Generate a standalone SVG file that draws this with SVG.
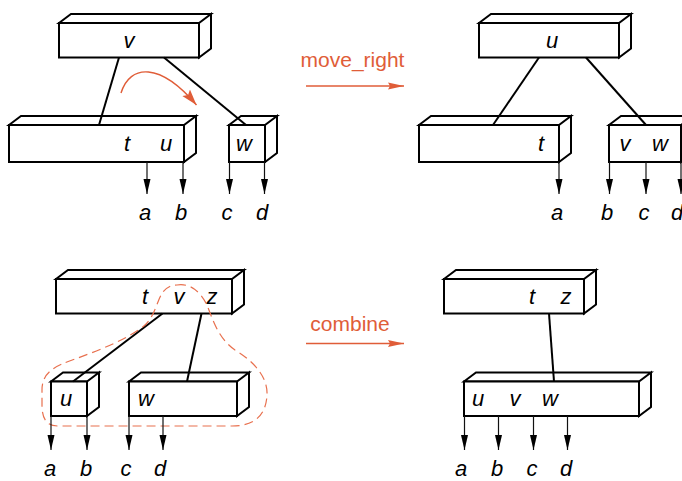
<svg xmlns="http://www.w3.org/2000/svg" width="682" height="481" viewBox="0 0 682 481">
<style>
.box{fill:#fff;stroke:#000;stroke-width:2;stroke-linejoin:miter}
.lbl{font-family:"Liberation Sans",Arial,sans-serif;font-style:italic;font-size:22px;fill:#000;text-anchor:middle}
.op{font-family:"Liberation Sans",Arial,sans-serif;font-size:21px;fill:#E05D38;text-anchor:middle}
.edge{stroke:#000;stroke-width:2;fill:none}
.ptr{stroke:#111;stroke-width:1.2;fill:none;marker-end:url(#ah)}
.oarr{stroke:#E05D38;stroke-width:1.3;fill:none;marker-end:url(#oh)}
.carr{stroke:#E05D38;stroke-width:1.4;fill:none;marker-end:url(#oh2)}
.dash{stroke:#E8704E;stroke-width:1.2;fill:none;stroke-dasharray:9 5}
</style>
<defs>
<marker id="ah" markerUnits="userSpaceOnUse" markerWidth="15" markerHeight="8" refX="15" refY="4" orient="auto"><path d="M0,0.5 L15,4 L0,7.5 Z" fill="#000"/></marker>
<marker id="oh" markerUnits="userSpaceOnUse" markerWidth="17" markerHeight="8" refX="16" refY="4" orient="auto"><path d="M0,0.5 L16,4 L0,7.5 L2,4 Z" fill="#E05D38"/></marker>
<marker id="oh2" markerUnits="userSpaceOnUse" markerWidth="17" markerHeight="11" refX="16" refY="5.5" orient="auto"><path d="M0,0.5 L16,5.5 L0,10.5 L3,5.5 Z" fill="#E05D38"/></marker>
</defs>

<!-- Top-left tree -->
<g id="tl-v">
<path class="box" d="M59,23 L71,14 L211,14 L199,23 Z M199,23 L211,14 L211,48.5 L199,57.5 Z"/>
<rect class="box" x="59" y="23" width="140" height="34.5"/>
<text class="lbl" x="129" y="47.5">v</text>
</g>
<g id="tl-tu">
<path class="box" d="M9,125 L21,116 L196,116 L184,125 Z M184,125 L196,116 L196,153 L184,162 Z"/>
<rect class="box" x="9" y="125" width="175" height="37"/>
<text class="lbl" x="127" y="150.5">t</text>
<text class="lbl" x="166" y="150.5">u</text>
</g>
<g id="tl-w">
<path class="box" d="M229,125 L241,116 L277,116 L265,125 Z M265,125 L277,116 L277,153 L265,162 Z"/>
<rect class="box" x="229" y="125" width="36" height="37"/>
<text class="lbl" x="244" y="150.5">w</text>
</g>

<!-- Top-right tree -->
<g id="tr-u">
<path class="box" d="M479,23 L491,14 L631,14 L619,23 Z M619,23 L631,14 L631,48.5 L619,57.5 Z"/>
<rect class="box" x="479" y="23" width="140" height="34.5"/>
<text class="lbl" x="552" y="47.5">u</text>
</g>
<g id="tr-t">
<path class="box" d="M419,125 L431,116 L571,116 L559,125 Z M559,125 L571,116 L571,153 L559,162 Z"/>
<rect class="box" x="419" y="125" width="140" height="37"/>
<text class="lbl" x="541" y="150.5">t</text>
</g>
<g id="tr-vw">
<path class="box" d="M609,125 L621,116 L693,116 L681,125 Z M681,125 L693,116 L693,153 L681,162 Z"/>
<rect class="box" x="609" y="125" width="72" height="37"/>
<text class="lbl" x="625" y="150.5">v</text>
<text class="lbl" x="660" y="150.5">w</text>
</g>

<!-- Bottom-left tree -->
<g id="bl-tvz">
<path class="box" d="M56,279 L68,270 L244,270 L232,279 Z M232,279 L244,270 L244,304.5 L232,313.5 Z"/>
<rect class="box" x="56" y="279" width="176" height="34.5"/>
<text class="lbl" x="145" y="303.5">t</text>
<text class="lbl" x="179" y="303.5">v</text>
<text class="lbl" x="212" y="303.5">z</text>
</g>
<g id="bl-u">
<path class="box" d="M51,381.5 L63,372.5 L99,372.5 L87,381.5 Z M87,381.5 L99,372.5 L99,407 L87,416 Z"/>
<rect class="box" x="51" y="381.5" width="36" height="34.5"/>
<text class="lbl" x="66" y="405.5">u</text>
</g>
<g id="bl-w">
<path class="box" d="M129,381.5 L141,372.5 L249,372.5 L237,381.5 Z M237,381.5 L249,372.5 L249,407 L237,416 Z"/>
<rect class="box" x="129" y="381.5" width="108" height="34.5"/>
<text class="lbl" x="146" y="405.5">w</text>
</g>

<!-- Bottom-right tree -->
<g id="br-tz">
<path class="box" d="M444,279 L456,270 L596,270 L584,279 Z M584,279 L596,270 L596,304.5 L584,313.5 Z"/>
<rect class="box" x="444" y="279" width="140" height="34.5"/>
<text class="lbl" x="532" y="303.5">t</text>
<text class="lbl" x="566" y="303.5">z</text>
</g>
<g id="br-uvw">
<path class="box" d="M464,381.5 L476,372.5 L651,372.5 L639,381.5 Z M639,381.5 L651,372.5 L651,407 L639,416 Z"/>
<rect class="box" x="464" y="381.5" width="175" height="34.5"/>
<text class="lbl" x="478" y="405.5">u</text>
<text class="lbl" x="515" y="405.5">v</text>
<text class="lbl" x="550" y="405.5">w</text>
</g>

<!-- Operation labels -->
<g id="op-move">
<text class="op" x="352.5" y="67">move_right</text>
<path class="oarr" d="M306,86 L404,86"/>
</g>
<g id="op-combine">
<text class="op" x="350" y="331">combine</text>
<path class="oarr" d="M306,343.5 L404,343.5"/>
</g>

<g id="connectors">
<path class="edge" d="M119,57.5 L99,125"/>
<path class="edge" d="M164,57.5 L246,125"/>
<path class="edge" d="M539,57.5 L493,125"/>
<path class="edge" d="M586,57.5 L646,125"/>
<path class="edge" d="M162.5,313.5 L73,381.5"/>
<path class="edge" d="M201.5,313.5 L187,381.5"/>
<path class="edge" d="M549,313.5 L554,381.5"/>
<path class="carr" d="M121,93 C130,64 160,62 196.5,105"/>
<path class="dash" d="M177,285 C190,283 200,291 207,305 C213,320 218,338 235,350 C255,362 268,378 267,395 C266,415 255,426 232,426 L58,426 C46,426 42,418 42,405 L42,390 C42,372 55,366 75,359 C100,350 130,338 145,325 C155,316 157,300 163,292 C167,287 171,285 177,285 Z"/>
<path class="ptr" d="M147,162 L147,194"/>
<path class="ptr" d="M183,162 L183,194"/>
<path class="ptr" d="M229.5,162 L229.5,194"/>
<path class="ptr" d="M264.5,162 L264.5,194"/>
<path class="ptr" d="M559,162 L559,194"/>
<path class="ptr" d="M609.5,162 L609.5,194"/>
<path class="ptr" d="M646,162 L646,194"/>
<path class="ptr" d="M681,162 L681,194"/>
<path class="ptr" d="M51,416 L51,450"/>
<path class="ptr" d="M87,416 L87,450"/>
<path class="ptr" d="M129,416 L129,450"/>
<path class="ptr" d="M163,416 L163,450"/>
<path class="ptr" d="M464.5,416 L464.5,450"/>
<path class="ptr" d="M498.5,416 L498.5,450"/>
<path class="ptr" d="M533.5,416 L533.5,450"/>
<path class="ptr" d="M567.5,416 L567.5,450"/>
</g>

<g id="leaf-labels">
<text class="lbl" x="145" y="220">a</text>
<text class="lbl" x="181" y="220">b</text>
<text class="lbl" x="227" y="220">c</text>
<text class="lbl" x="262" y="220">d</text>
<text class="lbl" x="557" y="220">a</text>
<text class="lbl" x="607" y="220">b</text>
<text class="lbl" x="644" y="220">c</text>
<text class="lbl" x="677" y="220">d</text>
<text class="lbl" x="50" y="476">a</text>
<text class="lbl" x="86" y="476">b</text>
<text class="lbl" x="126" y="476">c</text>
<text class="lbl" x="160" y="476">d</text>
<text class="lbl" x="461" y="476">a</text>
<text class="lbl" x="497" y="476">b</text>
<text class="lbl" x="532" y="476">c</text>
<text class="lbl" x="566" y="476">d</text>
</g>
</svg>
